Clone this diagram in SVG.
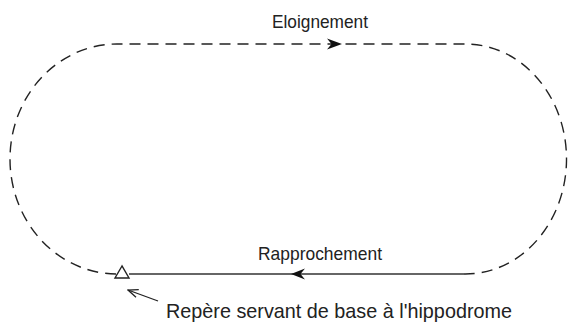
<svg xmlns="http://www.w3.org/2000/svg" width="568" height="322" viewBox="0 0 568 322">
<style>
.lbl{font-family:"Liberation Sans",Arial,sans-serif;fill:#222;}
.dash{fill:none;stroke:#222;stroke-width:1.4;stroke-dasharray:11 7;}
.solid{fill:none;stroke:#666;stroke-width:2;}
.head{fill:#111;stroke:none;}
</style>
<defs>
<marker id="open" markerWidth="12" markerHeight="12" refX="11" refY="5" orient="auto" markerUnits="userSpaceOnUse" viewBox="0 0 12 10">
<path d="M1,1 L11,5 L1,9" fill="none" stroke="#222" stroke-width="1.3"/>
</marker>
</defs>
<rect width="568" height="322" fill="#fff"/>
<g id="connectors">
<path class="dash" d="M116,274 A107,115 0 0 1 118,44 L467,44 A101,115 0 0 1 464,274"/>
<path class="solid" d="M464,274 L129,274"/>
<path class="head" d="M342,44 L327,38.5 L331.5,44 L327,49.5 Z"/>
<path class="head" d="M291,274 L305,268.5 L300.5,274 L305,279.5 Z"/>
<line x1="158" y1="301" x2="128" y2="290" stroke="#222" stroke-width="1.3" marker-end="url(#open)"/>
</g>
<g id="reference-mark">
<path d="M122,266 L115,278 L129,278 Z" fill="#fff" stroke="#222" stroke-width="1.4"/>
</g>
<g id="label-eloignement">
<text class="lbl" x="272" y="28" font-size="19" textLength="96" lengthAdjust="spacingAndGlyphs">Eloignement</text>
</g>
<g id="label-rapprochement">
<text class="lbl" x="258" y="260" font-size="19" textLength="124" lengthAdjust="spacingAndGlyphs">Rapprochement</text>
</g>
<g id="label-repere">
<text class="lbl" x="166" y="318" font-size="21" textLength="346" lengthAdjust="spacingAndGlyphs">Repère servant de base à l'hippodrome</text>
</g>
</svg>
